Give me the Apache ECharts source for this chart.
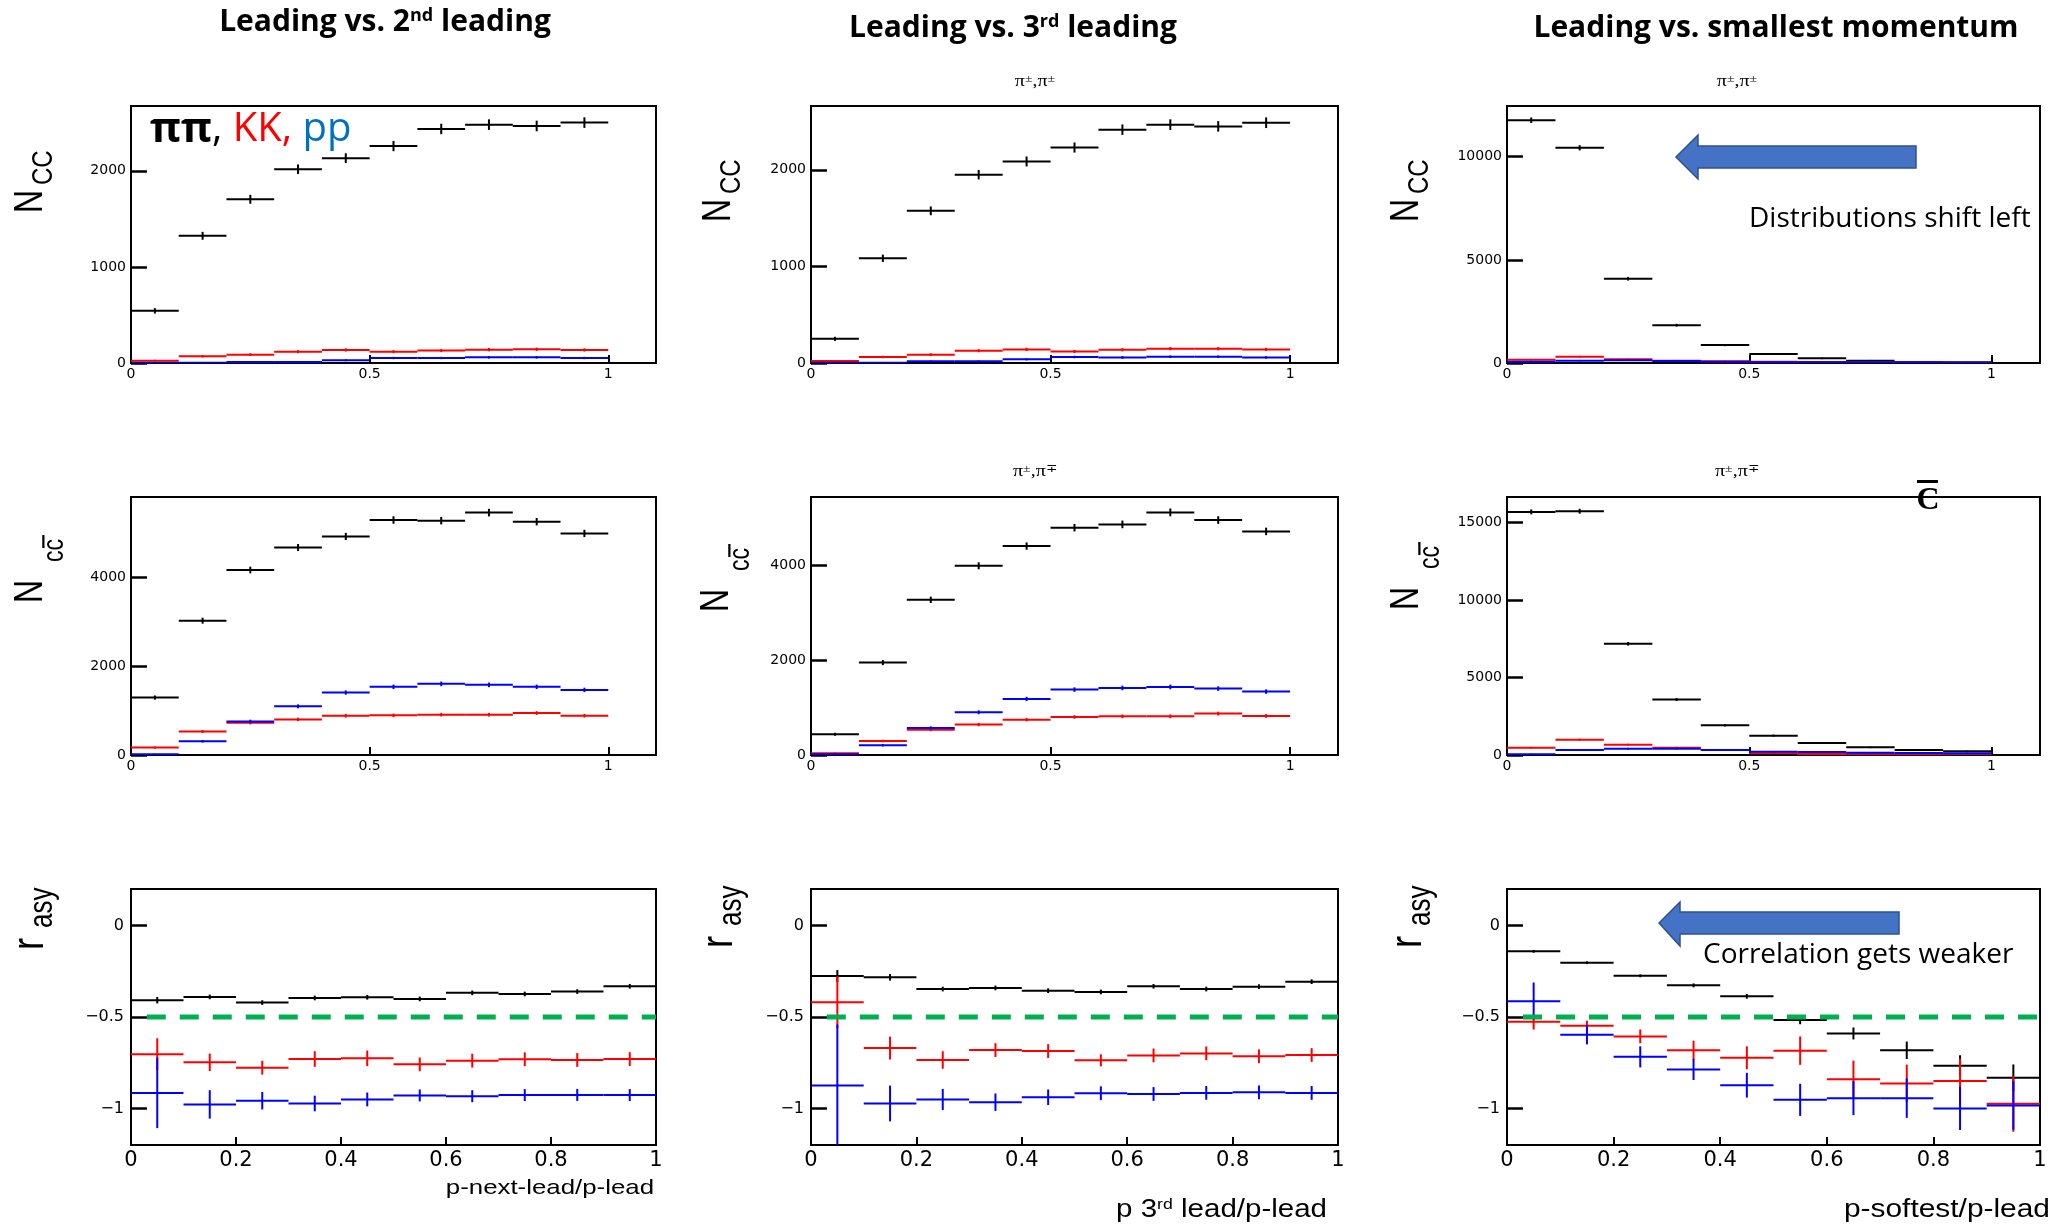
<!DOCTYPE html>
<html><head><meta charset="utf-8">
<script src="https://cdn.jsdelivr.net/npm/echarts@6/dist/echarts.min.js"></script>
<style>html,body{margin:0;padding:0;background:#fff}#c{width:2060px;height:1224px}</style>
</head><body><div id="c"></div>
<script>
// ---------------- data ----------------
const binEdges = [0, 0.1, 0.2, 0.3, 0.4, 0.5, 0.6, 0.7, 0.8, 0.9, 1.0];

// Row 1: N_CC  (same-sign pairs)
const c1_ncc_pipi = [543, 1324, 1704, 2017, 2132, 2258, 2436, 2481, 2467, 2502];
const c1_ncc_pipi_err = [23, 36, 41, 45, 46, 48, 49, 50, 50, 50];
const c1_ncc_KK = [24, 70, 87, 118, 136, 118, 129, 139, 143, 136];
const c1_ncc_KK_err = [5, 8, 9, 11, 12, 11, 11, 12, 12, 12];
const c1_ncc_pp = [3, 2, 10, 10, 28, 52, 52, 59, 59, 52];
const c1_ncc_pp_err = [1, 1, 3, 3, 5, 7, 7, 8, 8, 7];

const c2_ncc_pipi = [250, 1084, 1575, 1949, 2086, 2230, 2415, 2467, 2449, 2487];
const c2_ncc_pipi_err = [16, 33, 40, 44, 46, 47, 49, 50, 49, 50];
const c2_ncc_KK = [21, 62, 86, 127, 141, 120, 137, 148, 148, 141];
const c2_ncc_KK_err = [5, 8, 9, 11, 12, 11, 12, 12, 12, 12];
const c2_ncc_pp = [2, 2, 17, 17, 38, 62, 58, 65, 65, 58];
const c2_ncc_pp_err = [1, 1, 4, 4, 6, 8, 8, 8, 8, 8];

const c3_ncc_pipi = [11770, 10434, 4084, 1833, 868, 434, 225, 113, 48, 32];
const c3_ncc_pipi_err = [108, 102, 64, 43, 29, 21, 15, 11, 7, 6];
const c3_ncc_KK = [161, 305, 177, 113, 80, 64, 48, 32, 48, 16];
const c3_ncc_KK_err = [13, 17, 13, 11, 9, 8, 7, 6, 7, 4];
const c3_ncc_pp = [64, 113, 129, 96, 64, 32, 32, 32, 32, 16];
const c3_ncc_pp_err = [8, 11, 11, 10, 8, 6, 6, 6, 6, 4];

// Row 2: N_cc-bar (opposite-sign pairs)
const c1_nccb_pipi = [1291, 3019, 4158, 4664, 4913, 5283, 5268, 5449, 5245, 4981];
const c1_nccb_pipi_err = [36, 55, 64, 68, 70, 73, 73, 74, 72, 71];
const c1_nccb_KK = [166, 528, 725, 800, 883, 891, 906, 906, 943, 883];
const c1_nccb_KK_err = [13, 23, 27, 28, 30, 30, 30, 30, 31, 30];
const c1_nccb_pp = [15, 309, 755, 1094, 1404, 1532, 1600, 1577, 1532, 1464];
const c1_nccb_pp_err = [4, 18, 27, 33, 37, 39, 40, 40, 39, 38];

const c2_nccb_pipi = [436, 1947, 3269, 3986, 4401, 4788, 4858, 5111, 4949, 4710];
const c2_nccb_pipi_err = [21, 44, 57, 63, 66, 69, 70, 71, 70, 69];
const c2_nccb_KK = [35, 295, 534, 640, 745, 801, 815, 815, 872, 823];
const c2_nccb_KK_err = [6, 17, 23, 25, 27, 28, 29, 29, 30, 29];
const c2_nccb_pp = [14, 204, 569, 900, 1181, 1378, 1413, 1434, 1399, 1336];
const c2_nccb_pp_err = [4, 14, 24, 30, 34, 37, 38, 38, 37, 37];

const c3_nccb_pipi = [15690, 15733, 7177, 3578, 1918, 1250, 776, 496, 323, 237];
const c3_nccb_pipi_err = [125, 125, 85, 60, 44, 35, 28, 22, 18, 15];
const c3_nccb_KK = [474, 991, 668, 474, 323, 108, 65, 65, 43, 43];
const c3_nccb_KK_err = [22, 31, 26, 22, 18, 10, 8, 8, 7, 7];
const c3_nccb_pp = [43, 323, 409, 409, 323, 215, 194, 151, 129, 108];
const c3_nccb_pp_err = [7, 18, 20, 20, 18, 15, 14, 12, 11, 10];

// Row 3: r_asy
const c1_rasy_pipi = [-0.408, -0.390, -0.421, -0.396, -0.392, -0.401, -0.368, -0.374, -0.361, -0.332];
const c1_rasy_pipi_err = [0.015, 0.01, 0.01, 0.01, 0.01, 0.01, 0.01, 0.01, 0.01, 0.01];
const c1_rasy_KK = [-0.704, -0.748, -0.777, -0.730, -0.726, -0.759, -0.739, -0.731, -0.735, -0.730];
const c1_rasy_KK_err = [0.085, 0.045, 0.035, 0.04, 0.04, 0.035, 0.035, 0.035, 0.035, 0.035];
const c1_rasy_pp = [-0.915, -0.978, -0.958, -0.973, -0.951, -0.929, -0.933, -0.927, -0.926, -0.927];
const c1_rasy_pp_err = [0.19, 0.075, 0.045, 0.04, 0.035, 0.03, 0.03, 0.03, 0.03, 0.03];

const c2_rasy_pipi = [-0.276, -0.283, -0.347, -0.341, -0.356, -0.363, -0.332, -0.347, -0.334, -0.307];
const c2_rasy_pipi_err = [0.03, 0.015, 0.01, 0.01, 0.01, 0.01, 0.01, 0.01, 0.01, 0.01];
const c2_rasy_KK = [-0.419, -0.670, -0.735, -0.681, -0.686, -0.737, -0.710, -0.699, -0.715, -0.708];
const c2_rasy_KK_err = [0.14, 0.06, 0.045, 0.035, 0.035, 0.03, 0.035, 0.035, 0.035, 0.035];
const c2_rasy_pp = [-0.874, -0.973, -0.951, -0.966, -0.939, -0.917, -0.921, -0.915, -0.912, -0.915];
const c2_rasy_pp_err = [0.33, 0.095, 0.055, 0.045, 0.04, 0.035, 0.035, 0.035, 0.035, 0.035];

const c3_rasy_pipi = [-0.141, -0.203, -0.275, -0.327, -0.387, -0.517, -0.590, -0.682, -0.767, -0.832];
const c3_rasy_pipi_err = [0.005, 0.005, 0.005, 0.008, 0.01, 0.02, 0.03, 0.045, 0.055, 0.07];
const c3_rasy_KK = [-0.526, -0.548, -0.606, -0.682, -0.723, -0.684, -0.841, -0.863, -0.850, -0.975];
const c3_rasy_KK_err = [0.04, 0.025, 0.035, 0.05, 0.06, 0.075, 0.1, 0.1, 0.12, 0.15];
const c3_rasy_pp = [-0.414, -0.597, -0.718, -0.787, -0.873, -0.953, -0.944, -0.944, -1.000, -0.984];
const c3_rasy_pp_err = [0.1, 0.05, 0.055, 0.055, 0.065, 0.085, 0.09, 0.105, 0.115, 0.13];

// reference line r = -0.5
const refLineY = -0.5;
const refLineX = [0.03, 1.0];

// axis ranges / ticks
const yMaxRow1 = [2675, 2660, 12460];
const yMaxRow2 = [5800, 5435, 16650];
const yTicksRow1 = [[0, 1000, 2000], [0, 1000, 2000], [0, 5000, 10000]];
const yTicksRow2 = [[0, 2000, 4000], [0, 2000, 4000], [0, 5000, 10000, 15000]];
const yTicksRow3 = [-1, -0.5, 0];
const xTicksTop = [0, 0.5, 1];
const xTicksBottom = [0, 0.2, 0.4, 0.6, 0.8, 1];

const colTitles = ['Leading vs. 2', 'Leading vs. 3', 'Leading vs. smallest momentum'];
const xTitles = ['p-next-lead/p-lead', 'p 3rd lead/p-lead', 'p-softest/p-lead'];

// ---------------- layout ----------------
const colLeft = [131, 811, 1507];
const colWidth = [525, 527, 533];
const rowTop = [106, 497, 889];
const rowHeight = [257, 258, 256];
const colors = ['#000000', '#ff0000', '#0000ff'];

const rows = [
  [[c1_ncc_pipi, c1_ncc_pipi_err, c1_ncc_KK, c1_ncc_KK_err, c1_ncc_pp, c1_ncc_pp_err],
   [c2_ncc_pipi, c2_ncc_pipi_err, c2_ncc_KK, c2_ncc_KK_err, c2_ncc_pp, c2_ncc_pp_err],
   [c3_ncc_pipi, c3_ncc_pipi_err, c3_ncc_KK, c3_ncc_KK_err, c3_ncc_pp, c3_ncc_pp_err]],
  [[c1_nccb_pipi, c1_nccb_pipi_err, c1_nccb_KK, c1_nccb_KK_err, c1_nccb_pp, c1_nccb_pp_err],
   [c2_nccb_pipi, c2_nccb_pipi_err, c2_nccb_KK, c2_nccb_KK_err, c2_nccb_pp, c2_nccb_pp_err],
   [c3_nccb_pipi, c3_nccb_pipi_err, c3_nccb_KK, c3_nccb_KK_err, c3_nccb_pp, c3_nccb_pp_err]],
  [[c1_rasy_pipi, c1_rasy_pipi_err, c1_rasy_KK, c1_rasy_KK_err, c1_rasy_pp, c1_rasy_pp_err],
   [c2_rasy_pipi, c2_rasy_pipi_err, c2_rasy_KK, c2_rasy_KK_err, c2_rasy_pp, c2_rasy_pp_err],
   [c3_rasy_pipi, c3_rasy_pipi_err, c3_rasy_KK, c3_rasy_KK_err, c3_rasy_pp, c3_rasy_pp_err]]
];

const fmt = v => (v < 0 ? '\u2212' : '') + Math.abs(v);

function histRender(color) {
  return function (params, api) {
    const lo = api.value(0), hi = api.value(1), v = api.value(2), e = api.value(3);
    const a = api.coord([lo, v]), b = api.coord([hi, v]);
    const mid = (lo + hi) / 2;
    const t = api.coord([mid, v + e]), d = api.coord([mid, v - e]);
    return {
      type: 'group',
      children: [
        { type: 'line', shape: { x1: a[0], y1: a[1], x2: b[0], y2: b[1] }, style: { stroke: color, lineWidth: 2 } },
        { type: 'line', shape: { x1: t[0], y1: t[1] - 0.5, x2: d[0], y2: d[1] + 0.5 }, style: { stroke: color, lineWidth: 2 } }
      ]
    };
  };
}

const grids = [], xAxes = [], yAxes = [], series = [];
for (let r = 0; r < 3; r++) {
  for (let c = 0; c < 3; c++) {
    const idx = grids.length;
    grids.push({ left: colLeft[c], top: rowTop[r], width: colWidth[c], height: rowHeight[r],
      show: true, borderColor: '#000', borderWidth: 2, backgroundColor: 'transparent' });
    const bottom = r === 2;
    xAxes.push({
      gridIndex: idx, type: 'value', min: 0, max: bottom ? 1 : 1.1, position: 'bottom',
      axisLine: { show: false, onZero: false }, splitLine: { show: false },
      axisTick: { show: true, inside: true, length: 8, customValues: bottom ? xTicksBottom : xTicksTop,
        lineStyle: { color: '#000', width: 2 } },
      axisLabel: { customValues: bottom ? xTicksBottom : xTicksTop, formatter: fmt, color: '#000',
        fontFamily: 'DejaVu Sans', fontSize: bottom ? 21 : 14, margin: bottom ? 5 : 4 }
    });
    const yt = r === 0 ? yTicksRow1[c] : (r === 1 ? yTicksRow2[c] : yTicksRow3);
    yAxes.push({
      gridIndex: idx, type: 'value', position: 'left',
      min: bottom ? -1.2 : 0, max: bottom ? 0.2 : (r === 0 ? yMaxRow1[c] : yMaxRow2[c]),
      axisLine: { show: false, onZero: false }, splitLine: { show: false },
      axisTick: { show: true, inside: true, length: 16, customValues: yt, lineStyle: { color: '#000', width: 2.5 } },
      axisLabel: { customValues: yt, formatter: fmt, color: '#000', fontFamily: 'DejaVu Sans',
        fontSize: bottom ? 16 : 14, margin: bottom ? 7 : 5 }
    });
    const sets = rows[r][c];
    for (let j = 0; j < 3; j++) {
      const vals = sets[2 * j], errs = sets[2 * j + 1];
      series.push({
        type: 'custom', xAxisIndex: idx, yAxisIndex: idx, clip: true, z: 2 + j,
        renderItem: histRender(colors[j]),
        encode: { x: [0, 1], y: 2 },
        data: vals.map((v, k) => [binEdges[k], binEdges[k + 1], v, errs[k]])
      });
    }
    if (bottom) {
      series.push({
        type: 'line', xAxisIndex: idx, yAxisIndex: idx, z: 10, symbol: 'none', silent: true,
        lineStyle: { color: '#00b050', width: 5, type: [19, 14] },
        data: [[refLineX[0], refLineY], [refLineX[1], refLineY]]
      });
    }
  }
}

// ---------------- text annotations ----------------
const graphic = [];
// column titles with superscripts
graphic.push({ type: 'text', x: 385, y: 22, style: { text: '{a|Leading vs. 2}{s|nd}{a| leading}', align: 'center', verticalAlign: 'middle',
  rich: { a: { fontFamily: 'Open Sans', fontWeight: 'bold', fontSize: 30, fill: '#000' }, s: { fontFamily: 'Open Sans', fontWeight: 'bold', fontSize: 18, fill: '#000', verticalAlign: 'top' } } } });
graphic.push({ type: 'text', x: 1013, y: 28, style: { text: '{a|Leading vs. 3}{s|rd}{a| leading}', align: 'center', verticalAlign: 'middle',
  rich: { a: { fontFamily: 'Open Sans', fontWeight: 'bold', fontSize: 30, fill: '#000' }, s: { fontFamily: 'Open Sans', fontWeight: 'bold', fontSize: 18, fill: '#000', verticalAlign: 'top' } } } });
graphic.push({ type: 'text', x: 1776, y: 28, style: { text: colTitles[2], align: 'center', verticalAlign: 'middle',
  font: 'bold 30px "Open Sans"', fill: '#000' } });

// legend text
graphic.push({ type: 'text', x: 150, y: 130, style: { text: '{b|ππ}{k|, }{r|KK, }{p|pp}', align: 'left', verticalAlign: 'middle',
  rich: { b: { fontFamily: 'Open Sans', fontWeight: 'bold', fontSize: 42, fill: '#000' },
          k: { fontFamily: 'Open Sans', fontSize: 40, fill: '#000' },
          r: { fontFamily: 'Open Sans', fontSize: 40, fill: '#ff0000' },
          p: { fontFamily: 'Open Sans', fontSize: 40, fill: '#0070c0' } } } });

// pi labels
function piLabel(x, y, s2) {
  return { type: 'text', x, y, scaleX: 1.25, style: { text: '{a|π}{s|±}{a|,π}{s|' + s2 + '}', align: 'center', verticalAlign: 'middle',
    rich: { a: { fontFamily: 'Liberation Serif', fontSize: 16, fill: '#000' }, s: { fontFamily: 'Liberation Serif', fontSize: 11, fill: '#000', verticalAlign: 'top' } } } };
}
graphic.push(piLabel(1035, 82, '±'), piLabel(1737, 82, '±'), piLabel(1035, 472, '∓'), piLabel(1737, 472, '∓'));

// y axis titles (rotated)
function yTitle(x, y, main, mainSize, sub, subSize, subX, subY, bar) {
  const ch = [
    { type: 'text', x: 0, y: 0, style: { text: main, font: mainSize + 'px "Liberation Sans"', fill: '#000', align: 'left', verticalAlign: 'middle' } },
    { type: 'text', x: subX, y: subY, style: { text: sub, font: subSize + 'px "Liberation Sans"', fill: '#000', align: 'left', verticalAlign: 'middle' } }
  ];
  if (bar) ch.push({ type: 'rect', shape: { x: bar[0], y: bar[1], width: bar[2], height: bar[3] }, style: { fill: '#000' } });
  return { type: 'group', x, y, rotation: Math.PI / 2, scaleY: 1.25, children: ch };
}
const yTitlePos = [
  [[31, 213], [719, 222], [1407, 222]],
  [[31, 603], [717, 612], [1407, 610]],
  [[31, 950], [720, 948], [1409, 948]]
];
for (let c = 0; c < 3; c++) {
  graphic.push(yTitle(yTitlePos[0][c][0], yTitlePos[0][c][1], 'N', 32, 'CC', 24, 28, 10));
  graphic.push(yTitle(yTitlePos[1][c][0], yTitlePos[1][c][1], 'N', 32, 'cc', 23, 41, 19, [55, 9, 13, 1.8]));
  graphic.push(yTitle(yTitlePos[2][c][0], yTitlePos[2][c][1], 'r', 36, 'asy', 26, 22, 10));
}

// x axis titles
graphic.push({ type: 'text', x: 654, y: 1188, scaleX: 1.23, style: { text: xTitles[0], font: '21px "Liberation Sans"', fill: '#000', align: 'right', verticalAlign: 'middle' } });
graphic.push({ type: 'text', x: 1327, y: 1210, scaleX: 1.18, style: { text: '{a|p 3}{s|rd}{a| lead/p-lead}', align: 'right', verticalAlign: 'middle',
  rich: { a: { fontFamily: 'Liberation Sans', fontSize: 25, fill: '#000' }, s: { fontFamily: 'Liberation Sans', fontSize: 15, fill: '#000', verticalAlign: 'top' } } } });
graphic.push({ type: 'text', x: 2050, y: 1210, scaleX: 1.15, style: { text: xTitles[2], font: '26px "Liberation Sans"', fill: '#000', align: 'right', verticalAlign: 'middle' } });

// c-bar annotation
graphic.push({ type: 'text', x: 1928, y: 501, style: { text: 'C', font: 'bold 32px "Liberation Serif"', fill: '#000', align: 'center', verticalAlign: 'middle' } });
graphic.push({ type: 'rect', shape: { x: 1917, y: 480, width: 21, height: 3 }, style: { fill: '#000' } });

// arrows
const arrowStyle = { fill: '#4472c4', stroke: '#2f528f', lineWidth: 1.5 };
graphic.push({ type: 'polygon', shape: { points: [[1676, 157], [1698, 135], [1698, 146], [1916, 146], [1916, 168], [1698, 168], [1698, 179]] }, style: arrowStyle });
graphic.push({ type: 'polygon', shape: { points: [[1659, 923], [1680, 902], [1680, 912], [1899, 912], [1899, 934], [1680, 934], [1680, 946]] }, style: arrowStyle });
graphic.push({ type: 'text', x: 1749, y: 219, style: { text: 'Distributions shift left', font: '28px "Open Sans"', fill: '#000', align: 'left', verticalAlign: 'middle' } });
graphic.push({ type: 'text', x: 1703, y: 955, style: { text: 'Correlation gets weaker', font: '28px "Open Sans"', fill: '#000', align: 'left', verticalAlign: 'middle' } });

const chart = echarts.init(document.getElementById('c'), null, { renderer: 'canvas' });
chart.setOption({
  animation: false,
  backgroundColor: '#ffffff',
  grid: grids, xAxis: xAxes, yAxis: yAxes, series: series,
  graphic: graphic
});
</script>
</body></html>
